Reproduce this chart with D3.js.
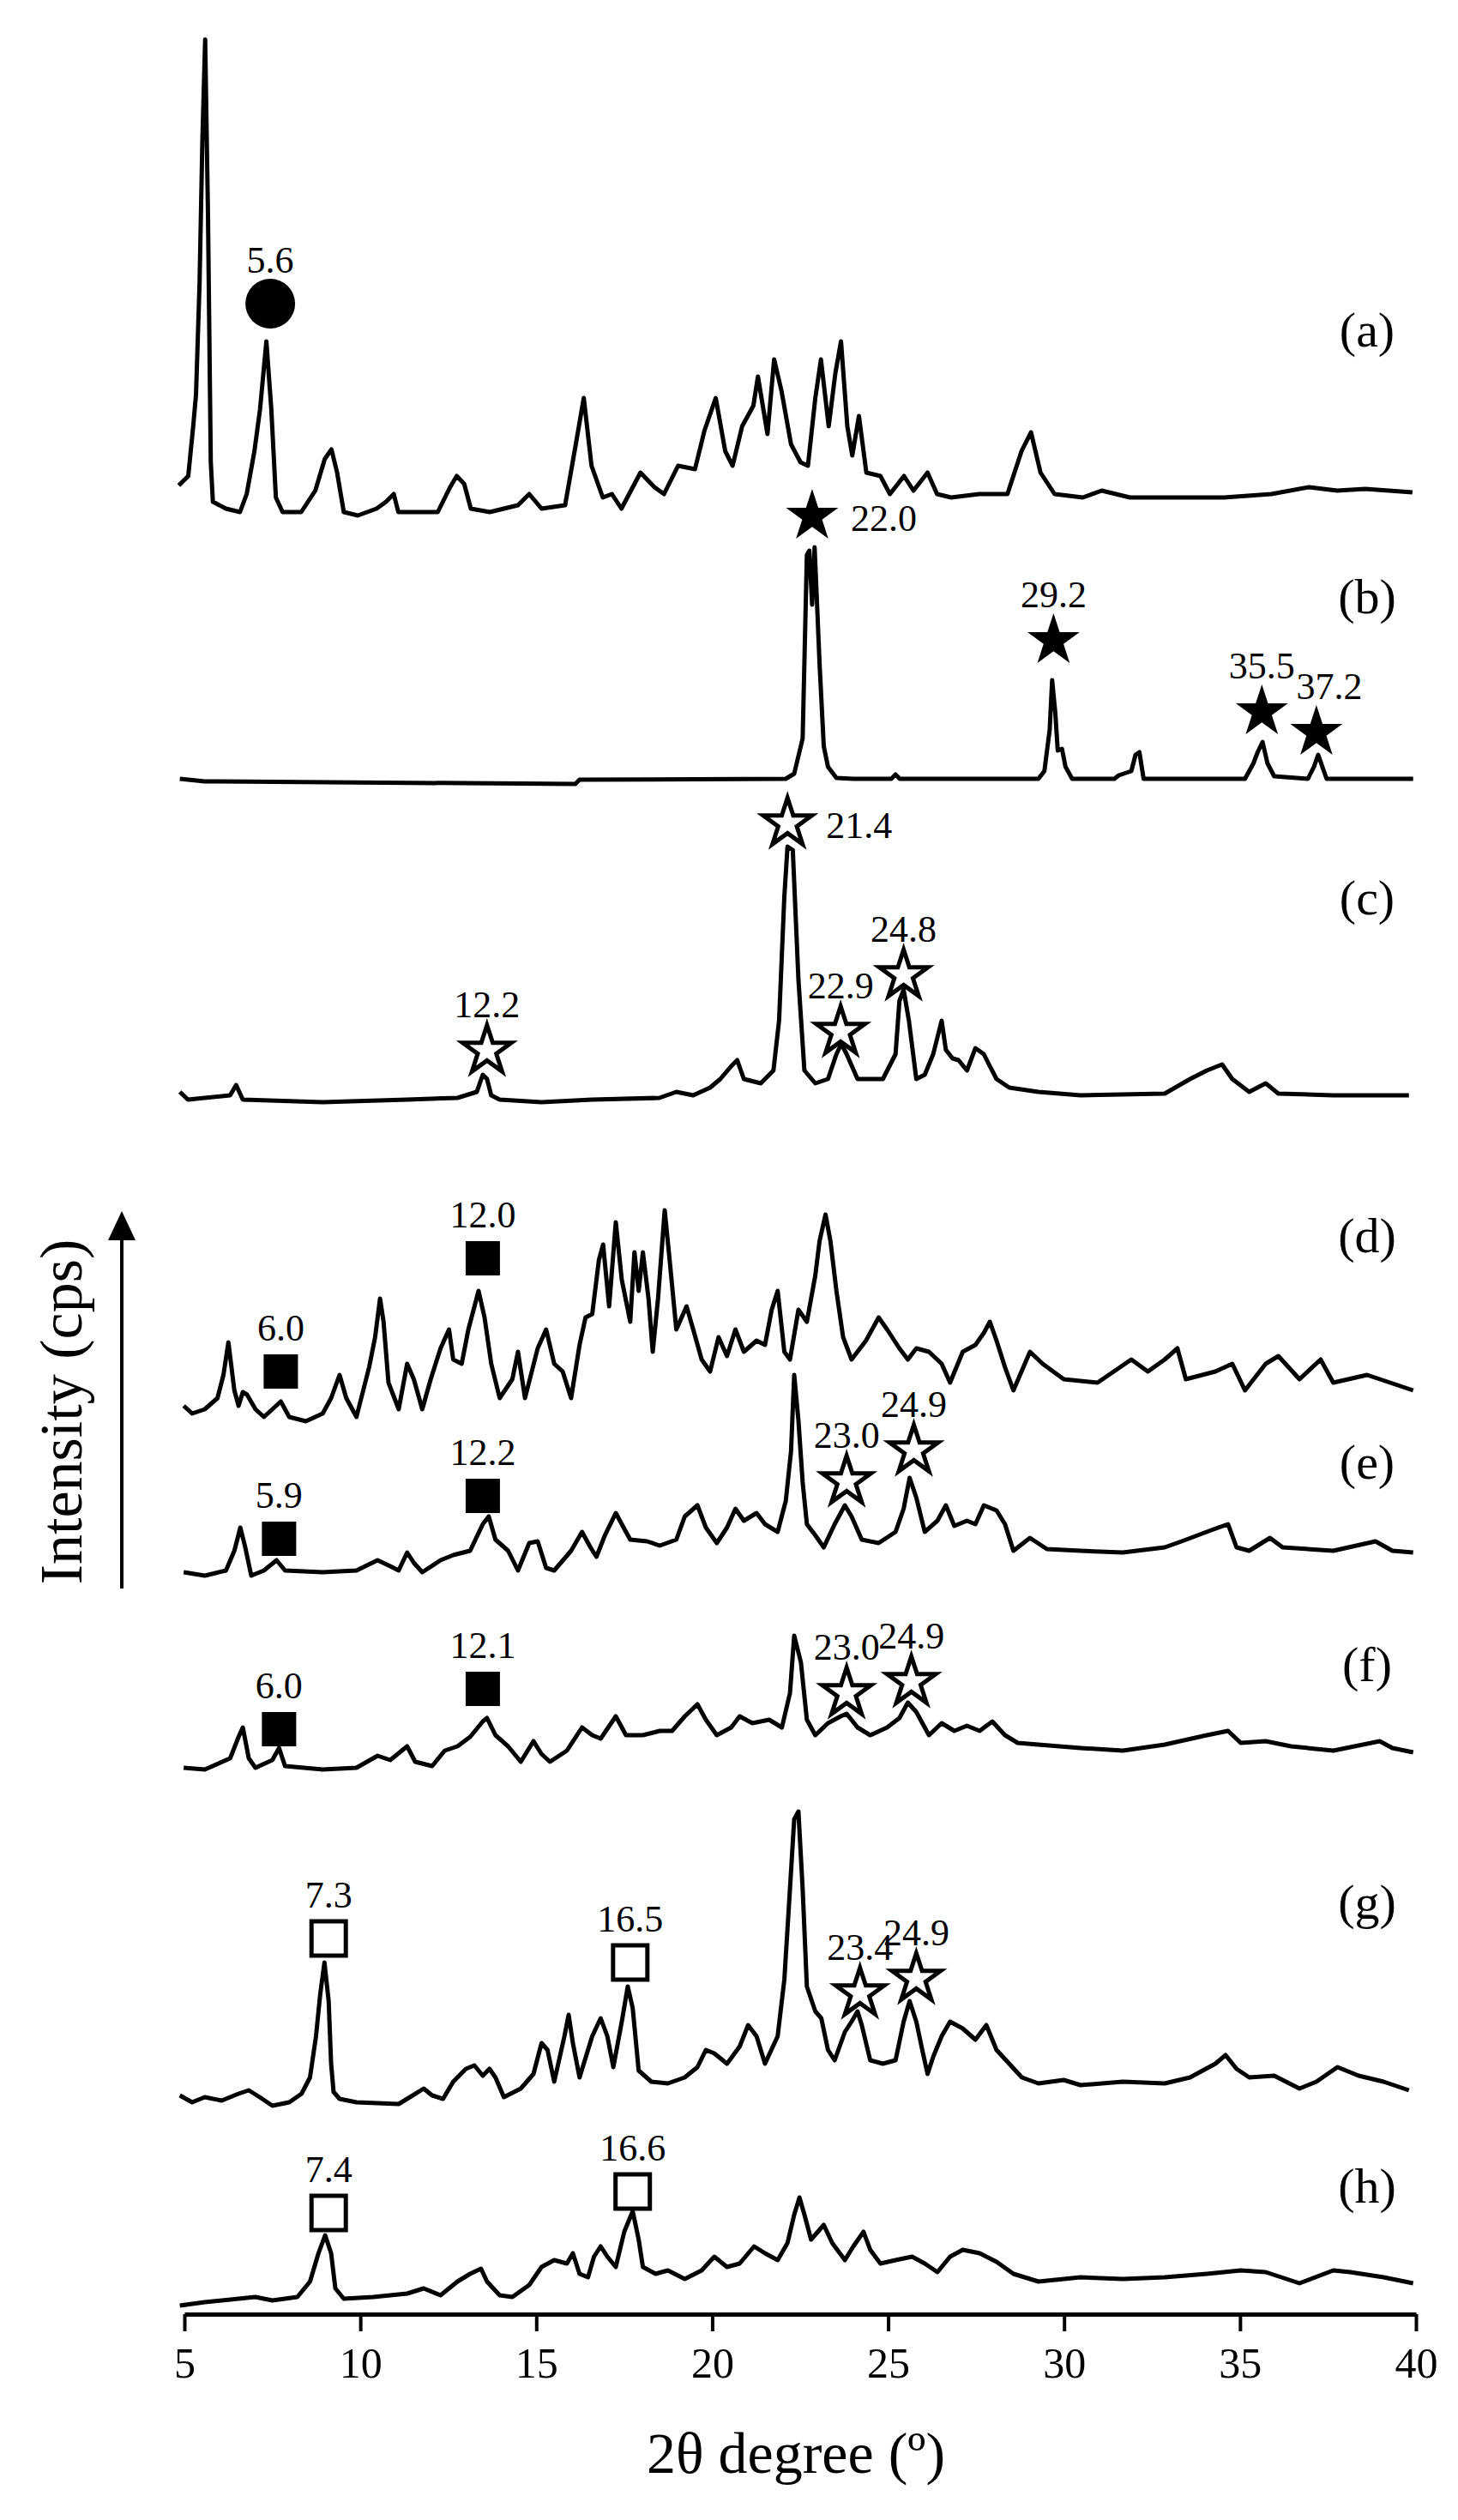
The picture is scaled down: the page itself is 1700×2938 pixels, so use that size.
<!DOCTYPE html>
<html>
<head>
<meta charset="utf-8">
<script src="https://cdn.jsdelivr.net/npm/d3@7"></script>
<style>
  body { margin: 0; background: #fff; }
  text { font-family: "Liberation Serif", "DejaVu Serif", serif; }
</style>
</head>
<body>
<svg id="chart"></svg>
<script>
// XRD patterns: [2theta, intensity (a.u., above each trace's baseline)]
const patA = [[4.84,23],[5.11,34],[5.25,92],[5.33,129],[5.43,257],[5.51,423],[5.59,543],[5.67,340],[5.75,50],[5.81,4],[6.18,-4],[6.58,-8],[6.77,13],[6.99,63],[7.15,112],[7.33,191],[7.47,112],[7.60,9],[7.79,-8],[8.32,-8],[8.72,17],[8.99,54],[9.18,65],[9.34,38],[9.53,-8],[9.93,-12],[10.46,-4],[10.73,4],[10.95,13],[11.08,-8],[12.20,-8],[12.55,21],[12.74,34],[12.95,25],[13.14,-4],[13.68,-8],[14.48,0],[14.80,13],[15.15,-4],[15.82,0],[16.14,75],[16.35,125],[16.57,46],[16.89,9],[17.15,13],[17.42,-4],[17.96,38],[18.36,21],[18.63,13],[19.03,46],[19.51,42],[19.78,87],[20.10,125],[20.37,63],[20.58,46],[20.85,92],[21.17,116],[21.30,150],[21.57,83],[21.76,170],[21.97,133],[22.24,71],[22.51,50],[22.72,46],[22.93,125],[23.09,170],[23.31,92],[23.50,154],[23.66,191],[23.84,92],[23.98,58],[24.17,104],[24.38,38],[24.78,34],[25.05,13],[25.45,34],[25.72,17],[26.12,38],[26.39,13],[26.79,9],[27.59,13],[28.39,13],[28.79,63],[29.06,85],[29.33,38],[29.73,13],[30.53,9],[31.07,17],[31.87,9],[33.21,9],[34.55,9],[35.89,13],[36.96,21],[37.76,17],[38.56,19],[39.90,15]];
const patB = [[4.87,1],[5.58,-2],[16.11,-5],[16.23,0],[22.09,1],[22.33,7],[22.57,48],[22.69,262],[22.76,267],[22.84,204],[22.91,271],[22.98,204],[23.05,136],[23.17,39],[23.29,15],[23.53,2],[24.01,1],[25.09,1],[25.21,6],[25.33,1],[29.27,1],[29.44,10],[29.59,58],[29.66,116],[29.75,78],[29.82,34],[29.94,36],[30.04,15],[30.23,1],[31.43,1],[31.55,5],[31.91,10],[32.03,29],[32.14,32],[32.26,1],[35.14,1],[35.38,19],[35.50,32],[35.64,44],[35.78,19],[35.97,4],[36.93,1],[37.10,15],[37.22,29],[37.34,15],[37.46,1],[39.92,1]];
const patC = [[4.87,9],[5.10,0],[6.30,5],[6.47,17],[6.66,0],[8.93,-3],[11.33,0],[12.76,2],[13.31,9],[13.48,29],[13.60,24],[13.72,5],[13.96,0],[15.15,-3],[16.59,0],[18.50,2],[18.98,9],[19.46,5],[19.94,14],[20.23,24],[20.54,39],[20.71,46],[20.90,24],[21.38,19],[21.74,34],[21.90,92],[22.05,237],[22.14,295],[22.29,291],[22.45,140],[22.62,34],[22.93,19],[23.29,24],[23.53,53],[23.67,65],[23.82,53],[24.13,24],[24.85,24],[25.21,53],[25.32,115],[25.44,128],[25.59,92],[25.80,24],[26.04,29],[26.28,53],[26.52,92],[26.64,58],[26.83,48],[27.00,46],[27.24,34],[27.48,60],[27.72,53],[27.84,43],[28.08,24],[28.44,14],[29.27,9],[30.47,5],[32.86,7],[33.58,24],[34.06,34],[34.49,41],[34.78,24],[35.26,9],[35.73,19],[36.09,7],[37.65,5],[39.80,5]];
const patD = [[4.98,9],[5.22,0],[5.58,5],[5.94,18],[6.11,45],[6.25,83],[6.42,27],[6.54,9],[6.66,25],[6.78,22],[7.02,5],[7.26,-4],[7.74,14],[7.98,-4],[8.45,-9],[8.93,0],[9.17,18],[9.41,45],[9.60,18],[9.89,-4],[10.25,54],[10.42,89],[10.56,134],[10.66,107],[10.80,36],[11.09,5],[11.33,58],[11.52,40],[11.76,5],[12.00,40],[12.28,76],[12.52,98],[12.64,63],[12.88,58],[13.07,98],[13.36,143],[13.53,112],[13.72,58],[13.96,18],[14.32,40],[14.48,72],[14.68,18],[15.04,76],[15.28,98],[15.51,58],[15.75,49],[15.99,18],[16.23,80],[16.40,112],[16.59,116],[16.78,179],[16.90,197],[17.07,125],[17.26,223],[17.43,156],[17.67,107],[17.79,188],[17.91,143],[18.03,188],[18.19,134],[18.31,72],[18.46,134],[18.65,237],[18.79,179],[18.98,98],[19.27,125],[19.46,98],[19.70,63],[19.94,49],[20.18,89],[20.42,67],[20.66,98],[20.90,72],[21.26,85],[21.50,80],[21.69,121],[21.86,143],[22.05,72],[22.21,63],[22.45,121],[22.69,107],[22.93,161],[23.05,201],[23.22,232],[23.36,201],[23.53,143],[23.72,89],[23.96,63],[24.37,85],[24.73,112],[24.97,98],[25.32,76],[25.56,63],[25.80,76],[26.16,72],[26.52,58],[26.76,36],[27.12,72],[27.48,80],[27.72,94],[27.89,107],[28.08,85],[28.32,54],[28.56,27],[29.03,72],[29.39,58],[29.99,40],[30.95,36],[31.91,63],[32.38,49],[32.86,63],[33.22,76],[33.46,40],[34.30,49],[34.78,58],[35.14,27],[35.73,58],[36.09,67],[36.69,40],[37.29,63],[37.65,36],[38.61,45],[39.92,27]];
const patE = [[4.98,2],[5.58,-2],[6.18,4],[6.42,27],[6.59,54],[6.73,31],[6.90,-2],[7.26,4],[7.62,16],[7.86,4],[8.93,2],[9.89,4],[10.49,16],[10.85,9],[11.09,4],[11.33,25],[11.52,13],[11.76,2],[12.28,16],[12.64,22],[13.12,27],[13.48,58],[13.65,67],[13.84,40],[14.20,27],[14.48,4],[14.80,36],[15.04,38],[15.28,7],[15.51,4],[15.99,27],[16.30,49],[16.54,31],[16.71,20],[16.95,45],[17.26,71],[17.43,58],[17.67,40],[18.15,38],[18.51,33],[18.98,40],[19.22,67],[19.58,80],[19.82,54],[20.13,36],[20.42,54],[20.66,76],[20.90,62],[21.26,71],[21.50,58],[21.86,49],[22.09,85],[22.24,143],[22.33,232],[22.45,179],[22.57,107],[22.69,58],[22.93,45],[23.17,31],[23.48,58],[23.77,80],[23.96,67],[24.25,40],[24.73,36],[25.21,49],[25.44,76],[25.61,112],[25.80,89],[26.04,49],[26.40,62],[26.64,80],[26.88,56],[27.24,62],[27.48,58],[27.72,80],[28.08,74],[28.32,58],[28.56,27],[29.03,42],[29.51,29],[30.47,27],[31.67,25],[32.86,31],[33.34,38],[34.18,51],[34.66,58],[34.90,31],[35.26,27],[35.85,42],[36.21,31],[37.65,27],[38.85,38],[39.33,27],[39.92,25]];
const patF = [[4.98,2],[5.58,0],[6.30,13],[6.54,38],[6.66,49],[6.83,13],[7.02,2],[7.50,11],[7.69,25],[7.86,4],[8.93,0],[9.89,2],[10.49,16],[10.85,11],[11.33,27],[11.56,9],[12.04,4],[12.40,22],[12.76,27],[13.12,38],[13.48,56],[13.60,60],[13.84,40],[14.20,27],[14.56,9],[14.92,33],[15.15,18],[15.39,9],[15.87,22],[16.30,49],[16.59,40],[16.83,36],[17.26,62],[17.55,40],[18.03,40],[18.51,45],[18.86,45],[19.22,62],[19.58,76],[19.82,58],[20.13,40],[20.54,49],[20.78,62],[21.14,54],[21.62,58],[21.98,49],[22.21,89],[22.33,156],[22.52,125],[22.69,58],[22.93,40],[23.29,54],[23.65,62],[23.82,65],[24.13,49],[24.49,40],[24.97,49],[25.32,60],[25.56,78],[25.80,67],[26.16,40],[26.52,54],[26.88,45],[27.24,51],[27.60,45],[27.96,56],[28.32,40],[28.68,31],[29.27,29],[30.47,25],[31.67,22],[32.86,29],[34.06,40],[34.66,45],[35.02,31],[35.73,33],[36.45,27],[37.65,22],[38.97,33],[39.33,25],[39.92,20]];
const patG = [[4.87,6],[5.22,-2],[5.58,4],[6.06,0],[6.54,8],[6.83,12],[7.14,4],[7.50,-6],[7.98,-2],[8.33,8],[8.57,27],[8.74,75],[8.86,124],[8.98,161],[9.10,116],[9.17,43],[9.24,10],[9.41,2],[9.89,-2],[11.09,-4],[11.33,2],[11.80,14],[12.04,6],[12.35,2],[12.64,22],[13.00,37],[13.24,41],[13.48,29],[13.67,37],[13.84,27],[14.08,4],[14.56,14],[14.92,31],[15.15,67],[15.32,59],[15.51,22],[15.80,75],[15.92,100],[16.04,67],[16.23,27],[16.59,75],[16.83,96],[17.02,75],[17.19,39],[17.43,92],[17.60,133],[17.74,108],[17.91,35],[18.27,22],[18.74,20],[19.22,27],[19.58,39],[19.82,59],[20.06,55],[20.42,43],[20.78,63],[21.02,88],[21.26,75],[21.50,43],[21.86,75],[22.05,141],[22.21,247],[22.33,328],[22.45,337],[22.57,247],[22.69,133],[22.93,104],[23.10,96],[23.29,59],[23.48,47],[23.77,80],[23.96,92],[24.13,104],[24.25,88],[24.49,47],[24.85,43],[25.21,47],[25.44,92],[25.61,116],[25.80,92],[25.97,59],[26.12,31],[26.28,51],[26.52,75],[26.76,92],[27.12,84],[27.48,71],[27.79,88],[28.08,59],[28.44,43],[28.80,27],[29.27,20],[29.99,24],[30.47,18],[31.67,22],[32.86,20],[33.58,27],[34.30,43],[34.59,53],[34.90,37],[35.26,27],[35.97,29],[36.69,14],[37.17,22],[37.77,39],[38.37,29],[39.08,22],[39.80,12]];
const patH = [[4.87,-4],[5.58,0],[6.54,4],[7.02,6],[7.50,2],[8.21,6],[8.57,24],[8.81,57],[9.00,78],[9.17,57],[9.29,16],[9.53,4],[10.37,6],[11.33,10],[11.80,16],[12.28,8],[12.76,24],[13.12,33],[13.43,39],[13.60,24],[13.96,8],[14.32,6],[14.80,20],[15.15,41],[15.51,49],[15.87,45],[16.04,57],[16.23,33],[16.47,29],[16.64,53],[16.83,65],[17.02,53],[17.26,41],[17.50,82],[17.74,106],[17.91,73],[18.03,41],[18.39,33],[18.74,37],[19.22,27],[19.70,37],[20.06,53],[20.42,41],[20.78,45],[21.19,65],[21.50,57],[21.86,49],[22.14,69],[22.33,102],[22.48,122],[22.62,102],[22.81,73],[23.17,90],[23.41,69],[23.77,49],[24.01,65],[24.30,82],[24.49,61],[24.78,45],[25.21,49],[25.68,53],[26.04,45],[26.40,35],[26.76,53],[27.12,61],[27.60,57],[28.08,47],[28.56,33],[29.27,24],[30.47,29],[31.67,27],[32.86,29],[34.06,33],[35.02,37],[35.73,35],[36.69,22],[37.65,37],[38.13,35],[39.08,29],[39.92,22]];

const traces = [patA, patB, patC, patD, patE, patF, patG, patH];
const traceNames = ["(a)", "(b)", "(c)", "(d)", "(e)", "(f)", "(g)", "(h)"];

// peak markers: trace index, symbol, 2theta, height above baseline, label
const markers = [
  [0, "circle", 7.44, 235, "5.6"],
  [1, "star", 22.84, 310, "22.0"], [1, "star", 29.70, 165, "29.2"], [1, "star", 35.62, 82, "35.5"], [1, "star", 37.17, 58, "37.2"],
  [2, "ostar", 13.60, 60, "12.2"], [2, "ostar", 22.14, 325, "21.4"], [2, "ostar", 23.65, 82, "22.9"], [2, "ostar", 25.44, 148, "24.8"],
  [3, "square", 7.74, 49, "6.0"], [3, "square", 13.48, 181, "12.0"],
  [4, "square", 7.69, 41, "5.9"], [4, "square", 13.48, 91, "12.2"], [4, "ostar", 23.82, 111, "23.0"], [4, "ostar", 25.73, 147, "24.9"],
  [5, "square", 7.69, 47, "6.0"], [5, "square", 13.48, 94, "12.1"], [5, "ostar", 23.82, 92, "23.0"], [5, "ostar", 25.66, 105, "24.9"],
  [6, "osquare", 9.10, 189, "7.3"], [6, "osquare", 17.67, 161, "16.5"], [6, "ostar", 24.20, 128, "23.4"], [6, "ostar", 25.80, 145, "24.9"],
  [7, "osquare", 9.10, 104, "7.4"], [7, "osquare", 17.74, 129, "16.6"]
];
const sideLabels = ["22.0", "21.4"];

const xTicks = [5, 10, 15, 20, 25, 30, 35, 40];

const W = 1700, H = 2938;
const baselines = [589, 909, 1282, 1648, 1835, 2063, 2449, 2684];
const nameY = [404, 715, 1066, 1460, 1724, 1960, 2237, 2568];
const axisY = 2698;

const svg = d3.select("#chart").attr("width", W).attr("height", H).attr("viewBox", `0 0 ${W} ${H}`);

const x = d3.scaleLinear().domain([5, 40]).range([215, 1651]);
const y = d3.scaleLinear().domain([0, 100]).range([0, -100]); // intensity -> offset from baseline

const line = d3.line().x(d => x(d[0])).y(d => y(d[1]));

traces.forEach((t, i) => {
  const g = svg.append("g").attr("transform", `translate(0,${baselines[i]})`);
  g.append("path").datum(t)
    .attr("d", line)
    .attr("fill", "none").attr("stroke", "#000").attr("stroke-width", 5)
    .attr("stroke-linejoin", "round");
  svg.append("text").attr("x", 1594).attr("y", nameY[i])
    .attr("text-anchor", "middle").attr("font-size", 58).text(traceNames[i]);
});

markers.forEach(([ti, type, tx, h, lab]) => {
  const cx = x(tx), cy = baselines[ti] + y(h);
  if (type === "circle") {
    svg.append("circle").attr("cx", cx).attr("cy", cy).attr("r", 29).attr("fill", "#000");
  } else if (type === "star" || type === "ostar") {
    svg.append("path").attr("transform", `translate(${cx},${cy + 3})`)
      .attr("d", d3.symbol(d3.symbolStar, type === "star" ? 1150 : 1000)())
      .attr("fill", type === "star" ? "#000" : "#fff")
      .attr("stroke", "#000").attr("stroke-width", type === "star" ? 0 : 5);
  } else {
    const s = 40;
    svg.append("rect").attr("x", cx - s / 2).attr("y", cy - s / 2).attr("width", s).attr("height", s)
      .attr("fill", type === "square" ? "#000" : "#fff")
      .attr("stroke", "#000").attr("stroke-width", type === "square" ? 0 : 5);
  }
  const side = sideLabels.includes(lab) && ti < 3;
  svg.append("text")
    .attr("x", side ? cx + 45 : cx + (lab === "37.2" ? 15 : 0))
    .attr("y", side ? cy + 20 : cy - 36)
    .attr("text-anchor", side ? "start" : "middle")
    .attr("font-size", 44).text(lab);
});

// x axis
const ax = svg.append("g").attr("transform", `translate(0,${axisY})`)
  .call(d3.axisBottom(x).tickValues(xTicks).tickSize(20).tickPadding(18).tickSizeOuter(0));
ax.select(".domain").attr("stroke-width", 5);
ax.selectAll(".tick line").attr("stroke-width", 4);
ax.selectAll(".tick text").attr("font-size", 50).attr("font-family", "Liberation Serif");

svg.append("text").attr("x", 928).attr("y", 2883).attr("text-anchor", "middle")
  .attr("font-size", 68).text("2θ degree (º)");

// y label with arrow
svg.append("text").attr("transform", "translate(95,1646) rotate(-90)")
  .attr("text-anchor", "middle").attr("font-size", 70).text("Intensity (cps)");
svg.append("line").attr("x1", 142).attr("x2", 142).attr("y1", 1852).attr("y2", 1440)
  .attr("stroke", "#000").attr("stroke-width", 4);
svg.append("path").attr("d", "M142,1412 L158,1446 L126,1446 Z").attr("fill", "#000");
</script>
</body>
</html>
